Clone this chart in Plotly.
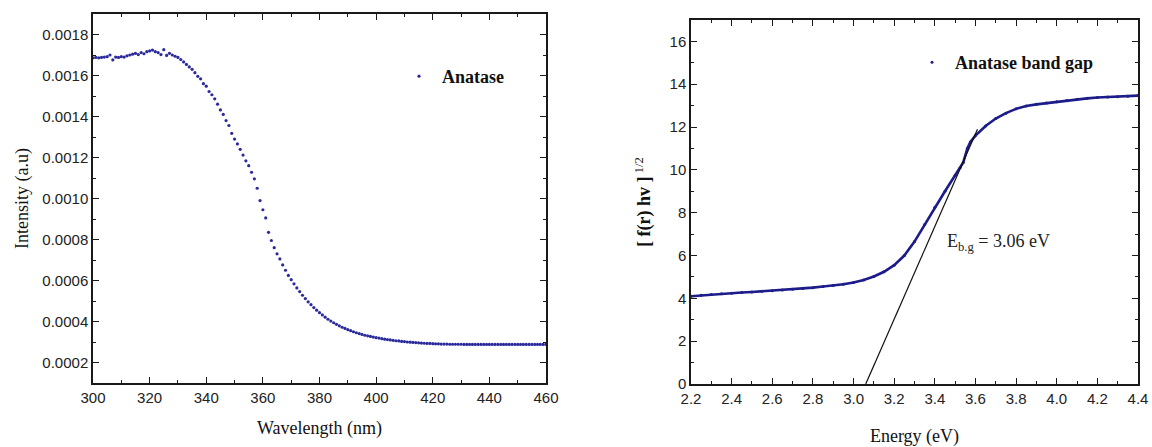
import plotly.graph_objects as go

# ---- UV-Vis absorbance of anatase ----
wavelength_nm = list(range(300, 461))
intensity_au = [
    0.001686, 0.001688, 0.001686, 0.001688, 0.001690, 0.001692, 0.001700, 0.001676, 0.001690, 0.001688,
    0.001692, 0.001690, 0.001696, 0.001700, 0.001704, 0.001708, 0.001702, 0.001712, 0.001706, 0.001716,
    0.001720, 0.001724, 0.001716, 0.001712, 0.001702, 0.001726, 0.001698, 0.001708, 0.001700, 0.001694,
    0.001688, 0.001678, 0.001666, 0.001654, 0.001642, 0.001630, 0.001614, 0.001596, 0.001584, 0.001560,
    0.001548, 0.001522, 0.001506, 0.001486, 0.001460, 0.001432, 0.001410, 0.001380, 0.001356, 0.001318,
    0.001290, 0.001266, 0.001240, 0.001212, 0.001184, 0.001160, 0.001128, 0.001096, 0.001050, 0.000990,
    0.000945, 0.000905, 0.000835, 0.000795, 0.000760, 0.000730, 0.000705, 0.000676, 0.000650, 0.000625,
    0.000604, 0.000584, 0.000564, 0.000546, 0.000528, 0.000512, 0.000496, 0.000482, 0.000468, 0.000455,
    0.000443, 0.000432, 0.000421, 0.000411, 0.000402, 0.000394, 0.000386, 0.000379, 0.000372, 0.000366,
    0.000360, 0.000355, 0.000350, 0.000345, 0.000341, 0.000337, 0.000333, 0.000330, 0.000327, 0.000324,
    0.000321, 0.000319, 0.000316, 0.000314, 0.000312, 0.000310, 0.000308, 0.000306, 0.000305, 0.000303,
    0.000302, 0.000300, 0.000299, 0.000298, 0.000297, 0.000296, 0.000295, 0.000294, 0.000293, 0.000293,
    0.000292, 0.000291, 0.000291, 0.000290, 0.000290, 0.000290, 0.000289, 0.000289, 0.000289, 0.000289,
    0.000289, 0.000288, 0.000288, 0.000288, 0.000288, 0.000288, 0.000288, 0.000288, 0.000288, 0.000288,
    0.000288, 0.000288, 0.000288, 0.000288, 0.000288, 0.000288, 0.000288, 0.000288, 0.000288, 0.000288,
    0.000288, 0.000288, 0.000288, 0.000288, 0.000288, 0.000288, 0.000288, 0.000288, 0.000288, 0.000288,
    0.000288,
]

# ---- Kubelka-Munk transformed spectrum ----
energy_ev = [
    2.20, 2.25, 2.30, 2.35, 2.40, 2.45, 2.50, 2.55, 2.60, 2.65,
    2.70, 2.75, 2.80, 2.85, 2.90, 2.95, 3.00, 3.05, 3.10, 3.15,
    3.20, 3.25, 3.30, 3.35, 3.40, 3.45, 3.50, 3.525, 3.54, 3.56,
    3.575, 3.60, 3.65, 3.70, 3.75, 3.80, 3.85, 3.90, 3.95, 4.00,
    4.05, 4.10, 4.15, 4.20, 4.25, 4.30, 4.35, 4.40,
]
kubelka_munk = [
    4.10, 4.14, 4.18, 4.21, 4.24, 4.27, 4.30, 4.33, 4.36, 4.39,
    4.42, 4.46, 4.50, 4.55, 4.60, 4.66, 4.74, 4.86, 5.02, 5.24,
    5.55, 6.00, 6.65, 7.45, 8.25, 9.00, 9.75, 10.10, 10.35, 11.00,
    11.30, 11.60, 12.05, 12.40, 12.65, 12.85, 12.98, 13.06, 13.12, 13.18,
    13.24, 13.30, 13.34, 13.38, 13.40, 13.42, 13.44, 13.47,
]

# Linear extrapolation of the absorption edge
BAND_GAP_EV = 3.06
tangent_energy = [BAND_GAP_EV, 3.61]
tangent_value = [0.0, 11.9]

DOT = "#2a2a9c"
LINE_BLUE = "#1c1c8a"
AXIS = "#1a1a1a"
SERIF = "Liberation Serif, Times New Roman, serif"
SANS = "Liberation Sans, Arial, sans-serif"

fig = go.Figure()

fig.add_trace(go.Scatter(
    x=wavelength_nm, y=intensity_au, mode="markers", name="Anatase",
    marker=dict(color=DOT, size=3.2), xaxis="x", yaxis="y", legend="legend",
))

fig.add_trace(go.Scatter(
    x=energy_ev, y=kubelka_munk, mode="lines", showlegend=False,
    line=dict(color=LINE_BLUE, width=2.6), xaxis="x2", yaxis="y2",
))
fig.add_trace(go.Scatter(
    x=energy_ev, y=kubelka_munk, mode="markers", name="Anatase band gap",
    marker=dict(color=LINE_BLUE, size=3), xaxis="x2", yaxis="y2", legend="legend2",
))
fig.add_trace(go.Scatter(
    x=tangent_energy, y=tangent_value, mode="lines", showlegend=False,
    line=dict(color="#111111", width=1.2), xaxis="x2", yaxis="y2",
))

W, H = 1152, 447
TITLE_FONT = dict(family=SERIF, size=18, color="#111111")

def axis_common():
    return dict(
        showline=True, linecolor=AXIS, linewidth=1.5, mirror="ticks",
        ticks="inside", ticklen=6, tickwidth=1.3, tickcolor=AXIS,
        showgrid=False, zeroline=False, automargin=False,
        tickfont=dict(family=SANS, size=15, color="#222222"),
    )

fig.update_layout(
    width=W, height=H, margin=dict(l=0, r=0, t=0, b=0),
    paper_bgcolor="white", plot_bgcolor="white", showlegend=True,
    xaxis=dict(
        **axis_common(), domain=[93 / W, 546 / W], range=[300, 460],
        tick0=300, dtick=20, anchor="y",
        minor=dict(ticks="inside", ticklen=3, dtick=10, tickcolor=AXIS),
        title=dict(text="Wavelength (nm)", font=TITLE_FONT, standoff=17),
    ),
    yaxis=dict(
        **axis_common(), domain=[1 - 383 / H, 1 - 14 / H], range=[0.0001, 0.0019],
        tick0=0.0002, dtick=0.0002, tickformat=".4f", anchor="x",
        minor=dict(ticks="inside", ticklen=3, dtick=0.0001, tickcolor=AXIS),
        title=dict(text="Intensity (a.u)", font=TITLE_FONT, standoff=9),
    ),
    xaxis2=dict(
        **axis_common(), domain=[691 / W, 1138 / W], range=[2.2, 4.4],
        tick0=2.2, dtick=0.2, tickformat=".1f", anchor="y2",
        minor=dict(ticks="inside", ticklen=3, dtick=0.1, tickcolor=AXIS),
        title=dict(text="Energy (eV)", font=TITLE_FONT, standoff=24),
    ),
    yaxis2=dict(
        **axis_common(), domain=[1 - 384 / H, 1 - 20 / H], range=[0, 17],
        tick0=0, dtick=2, anchor="x2",
        minor=dict(ticks="inside", ticklen=3, dtick=1, tickcolor=AXIS),
        title=dict(text="<b>[ f(r) hv ]</b><sup> 1/2</sup>", font=TITLE_FONT, standoff=14),
    ),
    legend=dict(
        x=396 / W, y=1 - 58 / H, xanchor="left", yanchor="top", itemwidth=36,
        bgcolor="rgba(0,0,0,0)", borderwidth=0,
        font=dict(family=SERIF, size=18, color="#111111", weight="bold"),
    ),
    legend2=dict(
        x=909 / W, y=1 - 44 / H, xanchor="left", yanchor="top", itemwidth=36,
        bgcolor="rgba(0,0,0,0)", borderwidth=0,
        font=dict(family=SERIF, size=18, color="#111111", weight="bold"),
    ),
    annotations=[
        dict(
            x=3.45, y=6.6, xref="x2", yref="y2", xanchor="left", yanchor="middle",
            text=f"E<sub>b.g</sub> = {BAND_GAP_EV:.2f} eV", showarrow=False,
            font=dict(family=SERIF, size=18, color="#222222"),
        ),
    ],
)

fig.write_html("out.html")
